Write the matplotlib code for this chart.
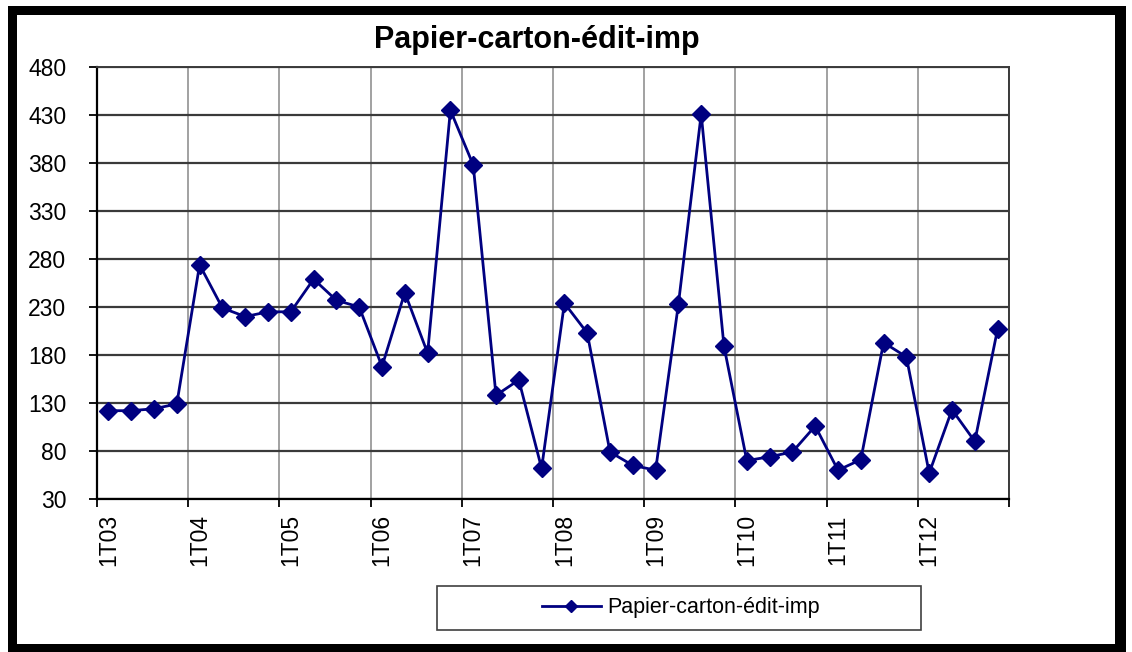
import matplotlib.pyplot as plt
from matplotlib.patches import Rectangle

# quarterly values 1T03 .. 4T12
years = ['03', '04', '05', '06', '07', '08', '09', '10', '11', '12']
values = [122, 122, 124, 129,
          274, 229, 220, 225,
          225, 259, 237, 230,
          168, 245, 182, 435,
          378, 138, 154, 62,
          234, 203, 79, 65,
          60, 233, 431, 189,
          70, 74, 79, 106,
          60, 71, 193, 178,
          57, 123, 90, 207]
y_ticks = [30, 80, 130, 180, 230, 280, 330, 380, 430, 480]
series_name = 'Papier-carton-édit-imp'
x_labels = ['1T' + y for y in years]

plt.rcParams['font.family'] = ['Liberation Sans', 'DejaVu Sans']

W, H = 1132, 652
fig = plt.figure(figsize=(W / 100, H / 100), dpi=100)

# black frame around the chart
fig.add_artist(Rectangle((8 / W, 0), 1118 / W, 646 / H, transform=fig.transFigure,
                         facecolor='black', edgecolor='none', zorder=-2))
fig.add_artist(Rectangle((17 / W, 8 / H), 1098 / W, 629 / H, transform=fig.transFigure,
                         facecolor='white', edgecolor='none', zorder=-1))

ax = fig.add_axes([97 / W, 153 / H, 912 / W, 432 / H])
ax.set_facecolor('white')

x = [i + 0.5 for i in range(len(values))]
line, = ax.plot(x, values, color='#000080', lw=2, marker='D', ms=9.5,
                markeredgecolor='#000080', label=series_name, zorder=3)

ax.set_xlim(0, len(values))
ax.set_ylim(30, 480)
ax.set_yticks(y_ticks)
ax.set_xticks(range(0, len(values) + 1, 4))
ax.set_xticklabels([])
ax.set_xticks([i * 4 + 0.5 for i in range(len(x_labels))], minor=True)
ax.set_xticklabels(x_labels, minor=True, rotation=90, fontsize=16.5, va='top')

ax.tick_params(axis='y', direction='out', length=6, width=1.3, labelsize=16.5, pad=16)
ax.tick_params(axis='x', which='major', direction='out', length=6, width=1.3)
ax.tick_params(axis='x', which='minor', length=0, pad=11)

ax.grid(axis='y', color='#3a3a3a', lw=1.6)
ax.grid(axis='x', which='major', color='#9a9a9a', lw=1.3)
ax.set_axisbelow(True)

for side in ['left', 'bottom']:
    ax.spines[side].set_color('black')
    ax.spines[side].set_linewidth(1.6)
for side in ['right', 'top']:
    ax.spines[side].set_color('#3a3a3a')
    ax.spines[side].set_linewidth(1.4)

fig.text(537 / W, 1 - 40 / H, series_name, ha='center', va='center',
         fontsize=22, fontweight='bold')

# legend with a wide box like the original
fig.add_artist(Rectangle((437 / W, 22 / H), 484 / W, 44 / H, transform=fig.transFigure,
                         facecolor='white', edgecolor='#404040', lw=1.2))
fig.legend(handles=[line], loc='center', bbox_to_anchor=(681 / W, 44 / H),
           frameon=False, fontsize=15.5, handlelength=2.7, markerscale=0.6,
           handletextpad=0.3)

fig.savefig('out.png', dpi=100)
